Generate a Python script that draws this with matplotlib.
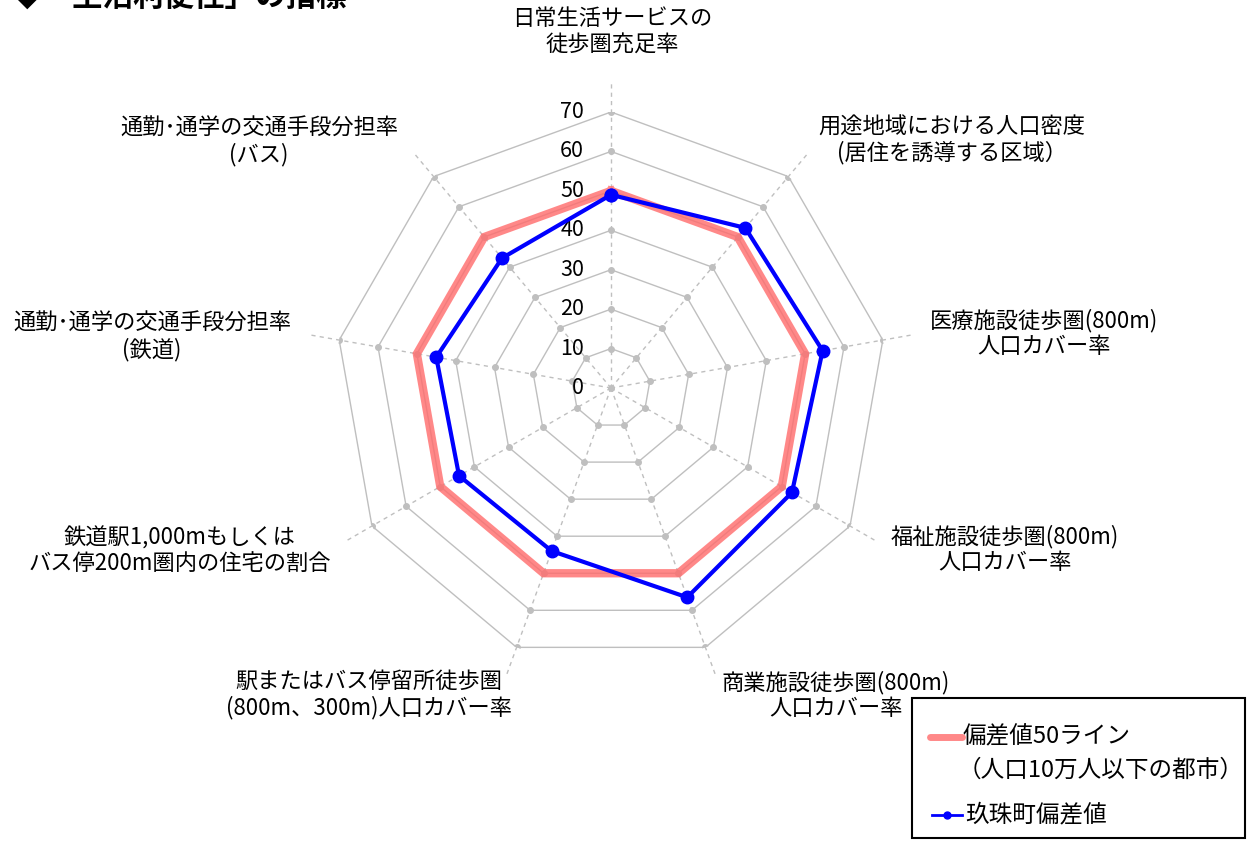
import numpy as np
import matplotlib.pyplot as plt
from matplotlib.lines import Line2D
from matplotlib.patches import Rectangle

plt.rcParams['font.family'] = ['Noto Sans CJK JP', 'DejaVu Sans']

labels = [
    "日常生活サービスの\n徒歩圏充足率",
    "用途地域における人口密度\n(居住を誘導する区域）",
    "医療施設徒歩圏(800m)\n人口カバー率",
    "福祉施設徒歩圏(800m)\n人口カバー率",
    "商業施設徒歩圏(800m)\n人口カバー率",
    "駅またはバス停留所徒歩圏\n(800m、300m)人口カバー率",
    "鉄道駅1,000mもしくは\nバス停200m圏内の住宅の割合",
    "通勤･通学の交通手段分担率\n(鉄道)",
    "通勤･通学の交通手段分担率\n(バス)",
]
base50 = [50, 50, 50, 50, 50, 50, 50, 50, 50]
kusu = [49, 53, 54.5, 53, 56.5, 44, 44.5, 45, 43]
rticks = [0, 10, 20, 30, 40, 50, 60, 70]

# label centres in pixels (x, y from top)
label_pos = [(612, 31), (952, 140), (1044, 333), (1005, 549), (836, 695),
             (369, 695), (180, 551), (152, 337), (259, 142)]

W, H = 1251, 843
cx, cy, R = 611, 388, 276

def fx(px):
    return px / W

def fy(py):
    return 1 - py / H

fig = plt.figure(figsize=(W / 100, H / 100), dpi=100)
ax = fig.add_axes([(cx - R) / W, (H - cy - R) / H, 2 * R / W, 2 * R / H], projection='polar')
ax.set_theta_zero_location('N')
ax.set_theta_direction(-1)
ax.grid(False)
ax.spines['polar'].set_visible(False)
ax.set_xticks([])
ax.set_yticks([])
ax.patch.set_alpha(0)

n = len(labels)
theta = np.arange(n) * 2 * np.pi / n
theta_c = np.append(theta, theta[0])

gc = '#BFBFBF'
for r in rticks[1:]:
    ax.plot(theta_c, [r] * (n + 1), color=gc, lw=1, zorder=1)
    ax.plot(theta, [r] * n, 'o', color=gc, ms=4, zorder=1)
for t in theta:
    ax.plot([t, t], [0, 78], color=gc, lw=1, ls=(0, (3, 3)), zorder=1, clip_on=False)
ax.plot([0], [0], 'o', color=gc, ms=4, zorder=1)
ax.set_ylim(0, 70)

for r in rticks:
    ax.annotate(str(r), xy=(0, r), xytext=(-27, 0), textcoords='offset pixels',
                ha='right', va='center', fontsize=15.5, color='#000000')

red = (1.0, 0.42, 0.42)
ax.plot(theta_c, base50 + base50[:1], color=red, alpha=0.8, lw=6,
        solid_joinstyle='miter', zorder=3, clip_on=False)
ax.plot(theta_c, kusu + kusu[:1], color='#0000FF', lw=3, marker='o', ms=9,
        zorder=4, clip_on=False)

for lab, (x, y) in zip(labels, label_pos):
    fig.text(fx(x), fy(y), lab, ha='center', va='center', fontsize=16,
             linespacing=1.15, multialignment='center')

fig.text(fx(12), fy(13), "◆「生活利便性」の指標", ha='left', va='bottom',
         fontsize=22, fontweight='bold')

# legend box
fig.patches.append(Rectangle((fx(912), fy(838)), (1245 - 912) / W, (838 - 698) / H,
                             transform=fig.transFigure, fill=False, edgecolor='black',
                             linewidth=1.5))
fig.lines.append(Line2D([fx(930), fx(962)], [fy(737), fy(737)], transform=fig.transFigure,
                        color=red, alpha=0.8, lw=5, solid_capstyle='round'))
fig.lines.append(Line2D([fx(932), fx(962)], [fy(815), fy(815)], transform=fig.transFigure,
                        color='#0000FF', lw=2))
fig.lines.append(Line2D([fx(947)], [fy(815)], transform=fig.transFigure,
                        color='#0000FF', marker='o', ms=5))
fig.text(fx(963), fy(737), "偏差値50ライン", ha='left', va='center', fontsize=17)
fig.text(fx(958), fy(770), "（人口10万人以下の都市）", ha='left', va='center', fontsize=17)
fig.text(fx(965), fy(815), "玖珠町偏差値", ha='left', va='center', fontsize=17)

fig.savefig('out.png', dpi=100)
